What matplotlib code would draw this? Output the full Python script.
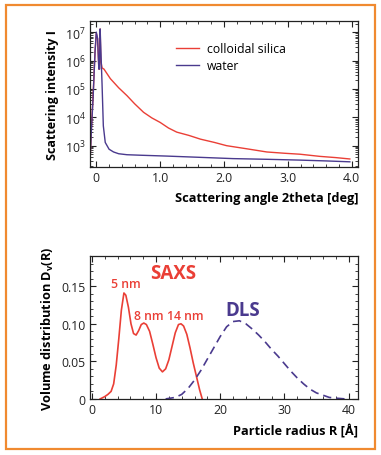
import matplotlib
matplotlib.use('Agg')
import matplotlib.pyplot as plt
from matplotlib.patches import Rectangle
from matplotlib.ticker import MultipleLocator, FixedLocator, FixedFormatter, LogLocator, NullFormatter

# Top panel: scattering curves
silica_x = [-0.10, -0.08, -0.05, -0.02, 0.00, 0.02, 0.04, 0.05, 0.06, 0.07, 0.09, 0.12,
            0.22, 0.35, 0.48, 0.60, 0.74, 0.87, 1.00, 1.13, 1.26, 1.45, 1.63, 1.85,
            2.04, 2.35, 2.67, 2.95, 3.19, 3.50, 3.75, 3.97]
silica_y = [2.0e2, 3.0e3, 6.0e4, 2.0e6, 9.0e6, 6.0e6, 5.0e5, 5.0e5, 1.3e7, 1.0e6, 5.5e5, 5.0e5,
            2.3e5, 1.1e5, 5.8e4, 3.0e4, 1.5e4, 9.5e3, 6.6e3, 4.2e3, 3.0e3, 2.3e3, 1.7e3, 1.3e3,
            1.0e3, 7.8e2, 6.0e2, 5.4e2, 5.0e2, 4.2e2, 3.8e2, 3.4e2]
water_x = [-0.10, -0.08, -0.05, -0.02, 0.00, 0.02, 0.04, 0.05, 0.06, 0.07, 0.09, 0.11,
           0.14, 0.20, 0.27, 0.35, 0.48, 0.70, 1.10, 1.60, 2.14, 2.70, 3.19, 3.60, 3.97]
water_y = [2.0e2, 2.5e3, 5.0e4, 2.0e6, 1.0e7, 6.0e6, 5.0e5, 5.0e5, 1.3e7, 3.0e6, 1.5e5, 5.0e3,
           1.3e3, 7.5e2, 6.0e2, 5.2e2, 4.8e2, 4.6e2, 4.3e2, 3.9e2, 3.5e2, 3.3e2, 3.1e2, 2.9e2, 2.7e2]

# Bottom panel: size distributions
saxs_r = [1.3, 2.0, 2.5, 3.0, 3.4, 3.8, 4.2, 4.6, 5.0, 5.3, 5.7, 6.1, 6.5, 6.9, 7.3, 7.7,
          8.1, 8.5, 9.0, 9.5, 10.0, 10.5, 11.0, 11.5, 12.0, 12.5, 13.0, 13.5, 13.9, 14.3,
          14.8, 15.3, 15.8, 16.3, 16.8, 17.2]
saxs_d = [0.0, 0.003, 0.006, 0.010, 0.020, 0.045, 0.080, 0.118, 0.141, 0.138, 0.122, 0.100,
          0.087, 0.085, 0.091, 0.099, 0.101, 0.099, 0.090, 0.073, 0.055, 0.041, 0.036, 0.040,
          0.052, 0.070, 0.088, 0.099, 0.100, 0.097, 0.086, 0.068, 0.048, 0.030, 0.012, 0.0]
dls_r = [11.5, 13, 14, 15, 16, 17, 18, 19, 20, 21, 22, 23, 24, 25, 26, 27, 28, 29, 30,
         31, 32, 33, 34, 35, 36, 37, 38, 39.5]
dls_d = [0.0, 0.002, 0.006, 0.014, 0.025, 0.038, 0.053, 0.068, 0.083, 0.096, 0.103, 0.104,
         0.100, 0.093, 0.085, 0.076, 0.066, 0.057, 0.047, 0.037, 0.028, 0.020, 0.013, 0.008,
         0.005, 0.002, 0.001, 0.0]

RED = '#EA3F36'
PURPLE = '#4A3A8E'
ORANGE = '#F08A30'
DARK = '#222222'

plt.rcParams['font.family'] = ['Open Sans', 'DejaVu Sans']
plt.rcParams['mathtext.fontset'] = 'custom'
plt.rcParams['mathtext.rm'] = 'Open Sans'
plt.rcParams['mathtext.bf'] = 'Open Sans:bold'
plt.rcParams['font.size'] = 8
plt.rcParams['axes.linewidth'] = 0.9
plt.rcParams['axes.edgecolor'] = DARK

fig = plt.figure(figsize=(3.81, 4.56), dpi=100)

# Orange frame round the whole figure
fig.patches.append(Rectangle((6 / 381, 6 / 456), 369 / 381, 444 / 456, transform=fig.transFigure,
                             fill=False, edgecolor=ORANGE, linewidth=1.6))


def style_ticks(ax):
    ax.tick_params(which='both', direction='in', top=True, right=True, colors=DARK,
                   labelsize=8.8, pad=3)
    ax.tick_params(which='major', length=4, width=0.8)
    ax.tick_params(which='minor', length=2, width=0.6)


# Top: scattering intensity
ax1 = fig.add_axes([0.236, 0.632, 0.704, 0.320])
ax1.plot(silica_x, silica_y, color=RED, lw=1.0, label='colloidal silica')
ax1.plot(water_x, water_y, color=PURPLE, lw=1.0, label='water')
ax1.set_yscale('log')
ax1.set_xlim(-0.1, 4.1)
ax1.set_ylim(180, 2.5e7)
ax1.xaxis.set_major_locator(FixedLocator([0, 1, 2, 3, 4]))
ax1.xaxis.set_major_formatter(FixedFormatter(['0', '1.0', '2.0', '3.0', '4.0']))
ax1.xaxis.set_minor_locator(MultipleLocator(0.2))
ax1.yaxis.set_major_locator(FixedLocator([1e3, 1e4, 1e5, 1e6, 1e7]))
ax1.yaxis.set_major_formatter(FixedFormatter([r'$10^3$', r'$10^4$', r'$10^5$', r'$10^6$', r'$10^7$']))
ax1.yaxis.set_minor_locator(LogLocator(base=10, subs=range(2, 10)))
ax1.yaxis.set_minor_formatter(NullFormatter())
style_ticks(ax1)
ax1.set_ylabel('Scattering intensity I', fontweight='bold', fontsize=9, labelpad=4)
ax1.set_xlabel('Scattering angle 2theta [deg]', fontweight='bold', fontsize=9.2,
               loc='right', labelpad=5)
ax1.legend(loc='upper left', bbox_to_anchor=(0.28, 0.93), frameon=False, fontsize=8.8,
           handlelength=1.9, handletextpad=0.6, labelspacing=0.35)

# Bottom: volume distribution
ax2 = fig.add_axes([0.236, 0.123, 0.704, 0.313])
ax2.plot(saxs_r, saxs_d, color=RED, lw=1.2)
ax2.plot(dls_r, dls_d, color=PURPLE, lw=1.2, dashes=(5, 3))
ax2.set_xlim(-0.3, 41.5)
ax2.set_ylim(0, 0.19)
ax2.xaxis.set_major_locator(FixedLocator([0, 10, 20, 30, 40]))
ax2.xaxis.set_minor_locator(MultipleLocator(2))
ax2.yaxis.set_major_locator(FixedLocator([0, 0.05, 0.10, 0.15]))
ax2.yaxis.set_major_formatter(FixedFormatter(['0', '0.05', '0.10', '0.15']))
ax2.yaxis.set_minor_locator(MultipleLocator(0.01))
style_ticks(ax2)
ax2.set_ylabel(r'Volume distribution D$_{\mathbf{v}}$(R)', fontweight='bold', fontsize=9.2,
               labelpad=4)
ax2.set_xlabel('Particle radius R [Å]', fontweight='bold', fontsize=9.2, loc='right', labelpad=5)

ax2.text(12.7, 0.168, 'SAXS', color=RED, fontsize=13.5, fontweight='bold', ha='center', va='center')
ax2.text(23.5, 0.119, 'DLS', color=PURPLE, fontsize=13.5, fontweight='bold', ha='center', va='center')
ax2.text(5.3, 0.154, '5 nm', color=RED, fontsize=8.8, fontweight='semibold', ha='center', va='center')
ax2.text(8.9, 0.111, '8 nm', color=RED, fontsize=8.8, fontweight='semibold', ha='center', va='center')
ax2.text(14.6, 0.111, '14 nm', color=RED, fontsize=8.8, fontweight='semibold', ha='center', va='center')

fig.savefig('out.png', dpi=100)
